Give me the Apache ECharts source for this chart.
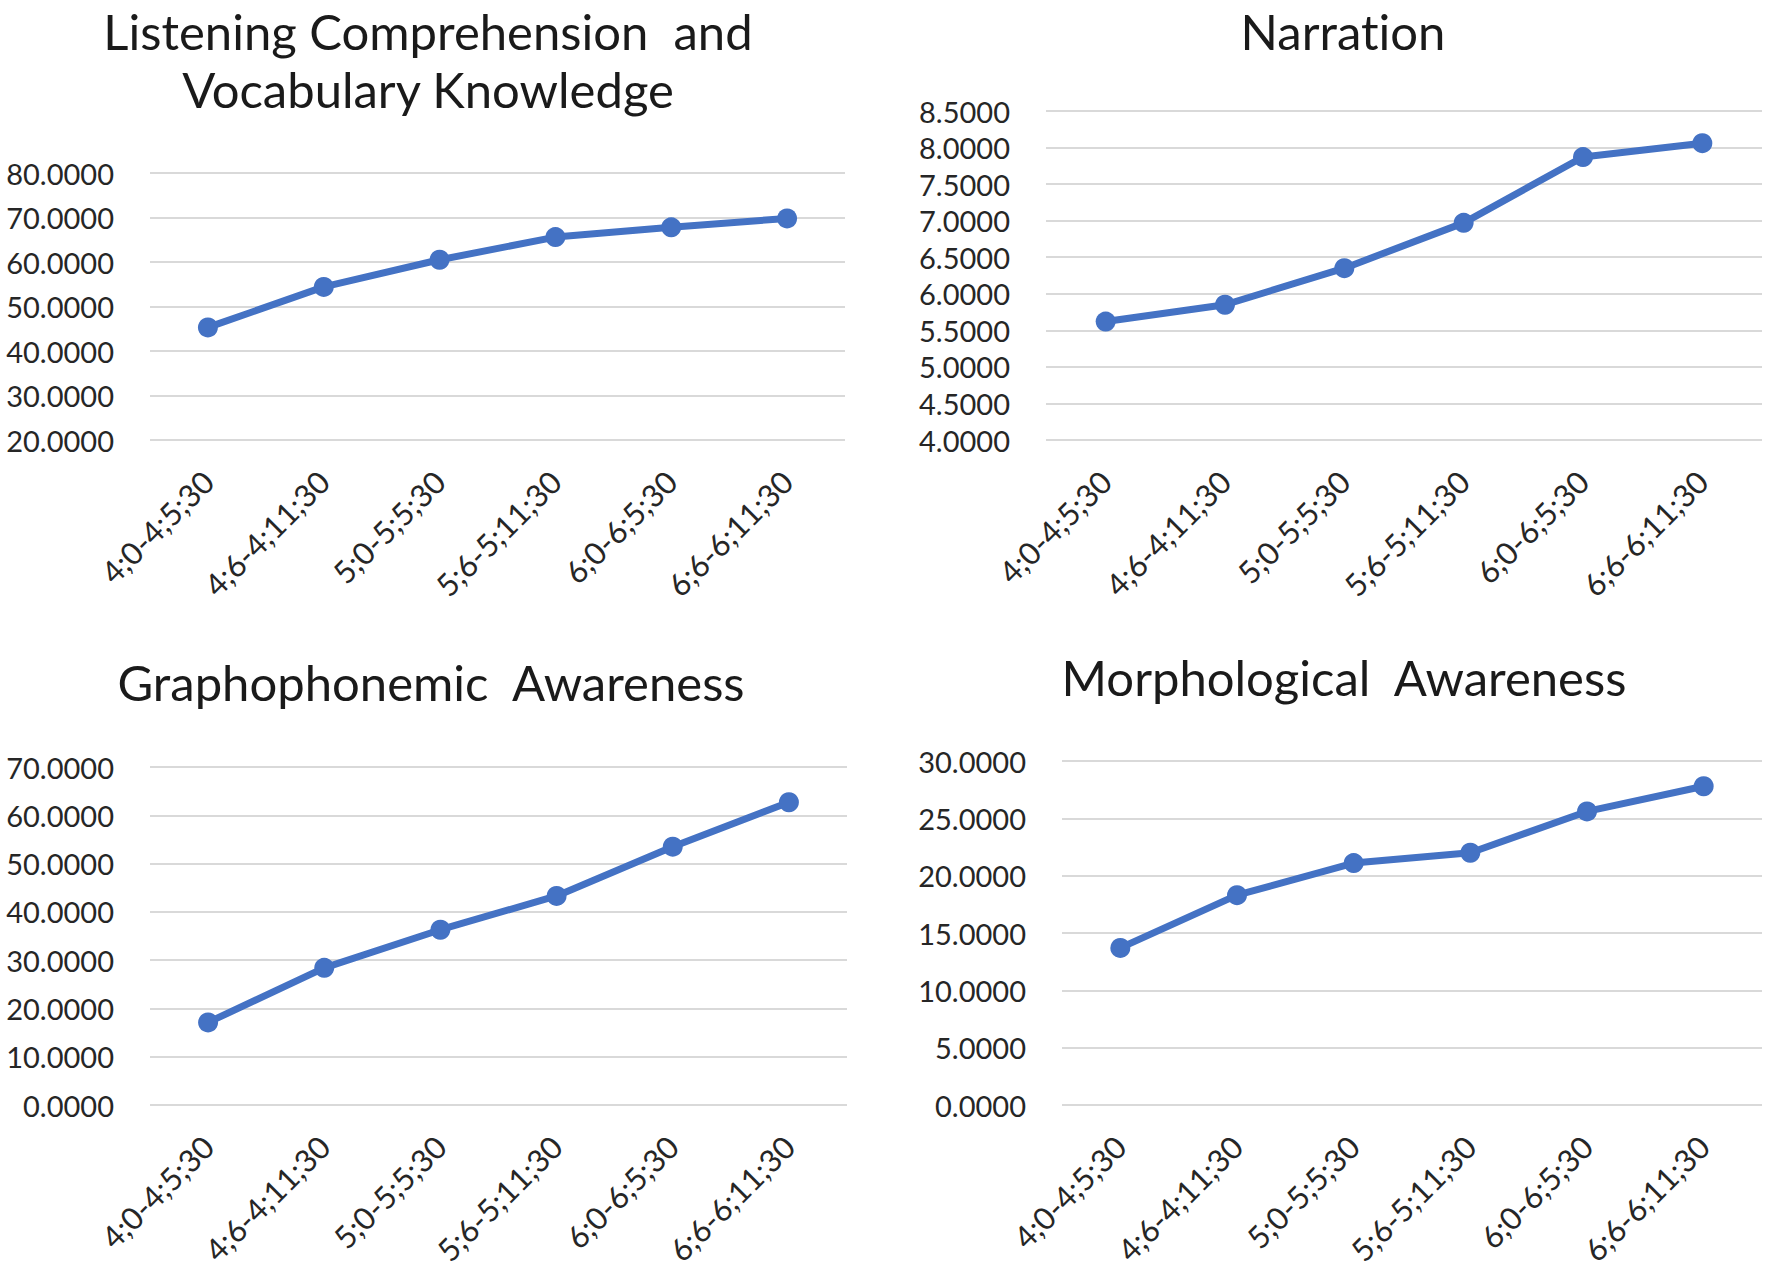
<!DOCTYPE html>
<html>
<head>
<meta charset="utf-8">
<title>Scores by age group</title>
<script src="https://cdn.jsdelivr.net/npm/echarts@6/dist/echarts.min.js"></script>
<style>
    html, body { margin: 0; padding: 0; background: #fff; }
    #chart { width: 1772px; height: 1271px; }
    /* Lato 默认的 "ti" 连字与原图不符，关掉 */
    #chart text { font-variant-ligatures: none; }
</style>
</head>
<body>
<div id="chart"></div>
<script>
// 年龄分组（x 轴）
const categories = ['4;0-4;5;30', '4;6-4;11;30', '5;0-5;5;30', '5;6-5;11;30', '6;0-6;5;30', '6;6-6;11;30'];

// 各项得分
const listening = [45.3, 54.4, 60.5, 65.6, 67.8, 69.8];
const narration = [5.62, 5.85, 6.35, 6.97, 7.87, 8.06];
const grapho = [17.1, 28.4, 36.3, 43.3, 53.5, 62.7];
const morpho = [13.7, 18.3, 21.1, 22.0, 25.6, 27.8];

// y 轴刻度范围 [min, max, interval]
const listeningTicks = [20, 80, 10];
const narrationTicks = [4, 8.5, 0.5];
const graphoTicks = [0, 70, 10];
const morphoTicks = [0, 30, 5];

// 标题（第一张图两行，分开放以免顶部被裁）
const titleLines = [
    'Listening Comprehension  and',
    'Vocabulary Knowledge',
    'Narration',
    'Graphophonemic  Awareness',
    'Morphological  Awareness'
];

const FONT = 'Lato';
const BLUE = '#4472C4';

let chart = echarts.init(document.getElementById('chart'), null, {renderer: 'svg'});

const grids = [
    {left: 150, top: 173, width: 695, height: 267},
    {left: 1046, top: 111, width: 716, height: 329},
    {left: 150, top: 767, width: 697, height: 338},
    {left: 1062, top: 761, width: 700, height: 344}
];

const titlePos = [
    {left: 428, top: 1},
    {left: 428, top: 59},
    {left: 1343, top: 1},
    {left: 431, top: 652},
    {left: 1344, top: 647}
];

function makeY(i, ticks) {
    return {
        type: 'value',
        gridIndex: i,
        min: ticks[0],
        max: ticks[1],
        interval: ticks[2],
        axisLine: {show: false},
        axisTick: {show: false},
        axisLabel: {
            margin: 36,
            fontFamily: FONT,
            fontSize: 29,
            color: '#262626',
            formatter: v => v.toFixed(4)
        },
        splitLine: {lineStyle: {color: '#D9D9D9', width: 2}}
    };
}

function makeX(i) {
    return {
        type: 'category',
        gridIndex: i,
        data: categories,
        boundaryGap: true,
        axisLine: {show: false},
        axisTick: {show: false},
        axisLabel: {
            rotate: 45,
            margin: 36,
            interval: 0,
            fontFamily: FONT,
            fontSize: 31,
            color: '#262626'
        }
    };
}

function makeSeries(i, data) {
    return {
        type: 'line',
        xAxisIndex: i,
        yAxisIndex: i,
        data: data,
        symbol: 'circle',
        symbolSize: 20,
        lineStyle: {color: BLUE, width: 7},
        itemStyle: {color: BLUE},
        animation: false
    };
}

let option = {
    backgroundColor: '#fff',
    animation: false,
    title: titleLines.map((t, i) => ({
        text: t,
        left: titlePos[i].left,
        top: titlePos[i].top,
        padding: 0,
        textAlign: 'center',
        textStyle: {
            fontFamily: FONT,
            fontSize: 49,
            fontWeight: 'normal',
            color: '#1a1a1a',
            lineHeight: 59
        }
    })),
    grid: grids,
    xAxis: [0, 1, 2, 3].map(makeX),
    yAxis: [
        makeY(0, listeningTicks),
        makeY(1, narrationTicks),
        makeY(2, graphoTicks),
        makeY(3, morphoTicks)
    ],
    series: [
        makeSeries(0, listening),
        makeSeries(1, narration),
        makeSeries(2, grapho),
        makeSeries(3, morpho)
    ]
};

chart.setOption(option);

window.addEventListener('resize', function () {
    chart.resize();
});
</script>
</body>
</html>
